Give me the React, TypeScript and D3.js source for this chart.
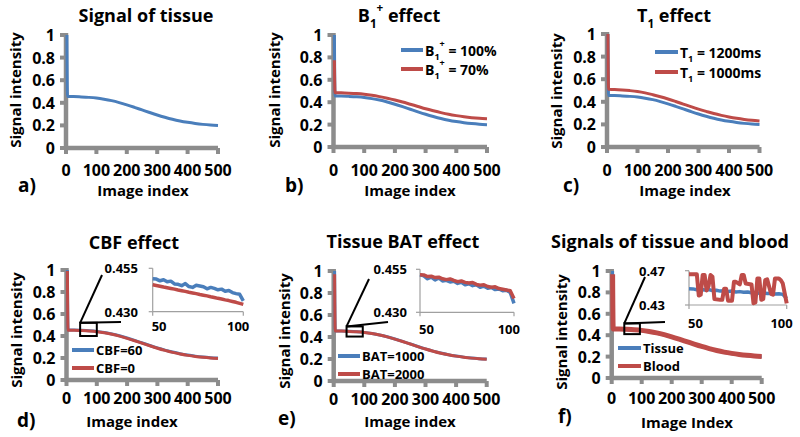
import React from 'react';
import * as d3 from 'd3';

// ---------- data ----------
const imageIndex = [3, 5, 25, 50, 75, 100, 125, 150, 175, 200, 225, 250, 275, 300, 325, 350, 375, 400, 425, 450, 475, 500];
const tissueSignal = [1.0, 0.455, 0.455, 0.452, 0.448, 0.442, 0.432, 0.419, 0.402, 0.382, 0.36, 0.337, 0.314, 0.292, 0.272, 0.254, 0.239, 0.227, 0.217, 0.209, 0.203, 0.199];
const b1Pct70 = [0.775, 0.485, 0.484, 0.481, 0.477, 0.471, 0.462, 0.45, 0.436, 0.42, 0.402, 0.382, 0.362, 0.342, 0.324, 0.307, 0.292, 0.28, 0.27, 0.262, 0.256, 0.252];
const t1Ms1000 = [1.0, 0.51, 0.509, 0.505, 0.499, 0.491, 0.479, 0.463, 0.445, 0.425, 0.403, 0.38, 0.357, 0.335, 0.315, 0.296, 0.28, 0.266, 0.254, 0.244, 0.236, 0.23];
const cbf0Main = [0.99, 0.452, 0.452, 0.449, 0.445, 0.439, 0.429, 0.416, 0.399, 0.379, 0.357, 0.334, 0.311, 0.289, 0.269, 0.251, 0.236, 0.224, 0.214, 0.206, 0.2, 0.196];
const bat2000Main = [0.97, 0.454, 0.454, 0.451, 0.447, 0.441, 0.431, 0.418, 0.401, 0.381, 0.359, 0.336, 0.313, 0.291, 0.271, 0.253, 0.238, 0.226, 0.216, 0.208, 0.202, 0.198];
const bloodMain = [0.97, 0.458, 0.458, 0.455, 0.451, 0.445, 0.435, 0.422, 0.405, 0.385, 0.363, 0.34, 0.317, 0.295, 0.275, 0.257, 0.242, 0.23, 0.22, 0.212, 0.206, 0.202];

const insetIndex = [50, 52, 54, 56, 58, 60, 62, 64, 66, 68, 70, 72, 74, 76, 78, 80, 82, 84, 86, 88, 90, 92, 94, 96, 98, 100];
const cbf60Inset = [0.449, 0.4488, 0.4478, 0.4484, 0.4472, 0.4476, 0.446, 0.4458, 0.445, 0.4462, 0.4445, 0.444, 0.4452, 0.4448, 0.4444, 0.4432, 0.444, 0.4434, 0.4426, 0.443, 0.4418, 0.4422, 0.441, 0.4404, 0.44, 0.4362];
const cbf0Inset = [0.4455, 0.4451, 0.4447, 0.4442, 0.4438, 0.4434, 0.443, 0.4425, 0.4421, 0.4417, 0.4412, 0.4408, 0.4404, 0.4399, 0.4395, 0.4391, 0.4386, 0.4382, 0.4377, 0.4373, 0.4368, 0.4364, 0.4359, 0.4354, 0.4348, 0.4342];
const bat1000Inset = [0.4518, 0.4512, 0.4495, 0.4505, 0.4488, 0.45, 0.4482, 0.4486, 0.4476, 0.448, 0.4468, 0.4474, 0.446, 0.4466, 0.4455, 0.446, 0.4446, 0.4452, 0.444, 0.4444, 0.4432, 0.4436, 0.4425, 0.4428, 0.4415, 0.4352];
const bat2000Inset = [0.4518, 0.4517, 0.4508, 0.451, 0.4502, 0.4504, 0.4495, 0.449, 0.4494, 0.4485, 0.4478, 0.4482, 0.4474, 0.447, 0.4473, 0.4462, 0.4458, 0.446, 0.445, 0.4446, 0.4448, 0.4438, 0.4434, 0.443, 0.4425, 0.438];
const tissueInsetF = [0.449, 0.4488, 0.4478, 0.4484, 0.4474, 0.448, 0.4468, 0.4472, 0.4462, 0.4466, 0.4458, 0.4462, 0.4452, 0.4456, 0.4448, 0.4452, 0.4442, 0.4446, 0.4438, 0.4442, 0.4434, 0.4436, 0.4428, 0.4432, 0.4424, 0.4376];
const bloodInsetIndex = [50, 54, 55, 56, 57, 58, 59, 60, 61, 62, 63, 66, 67, 68, 69, 70, 72, 73, 74, 76, 77, 78, 79, 82, 83, 84, 85, 86, 87, 88, 89, 90, 92, 93, 94, 96, 97, 98, 100];
const bloodInsetF = [0.466, 0.466, 0.441, 0.442, 0.465, 0.465, 0.447, 0.452, 0.465, 0.463, 0.437, 0.436, 0.436, 0.449, 0.449, 0.435, 0.435, 0.457, 0.457, 0.454, 0.465, 0.465, 0.455, 0.454, 0.432, 0.433, 0.461, 0.461, 0.436, 0.437, 0.459, 0.46, 0.443, 0.442, 0.461, 0.461, 0.459, 0.455, 0.432];

const yTicks = [0, 0.2, 0.4, 0.6, 0.8, 1];
const yTickLabels = ['0', '0.2', '0.4', '0.6', '0.8', '1'];
const xTicks = [0, 100, 200, 300, 400, 500];

// ---------- styles ----------
const BLUE = '#4a7ebb';
const RED = '#be4b48';
const GREY = '#8c8c8c';
const FONT = "'Open Sans', 'DejaVu Sans', sans-serif";

type Series = { xs: number[]; ys: number[]; color: string; width: number };

function pairs(xs: number[], ys: number[]): [number, number][] {
  return xs.map((v, i) => [v, ys[i]] as [number, number]);
}

function Panel(p: any) {
  const x = d3.scaleLinear().domain([0, 500]).range([p.x0, p.x1]);
  const y = d3.scaleLinear().domain([0, 1]).range([p.yBot, p.yTop]);
  const line = d3
    .line<[number, number]>()
    .x((d) => x(d[0]))
    .y((d) => y(d[1]))
    .curve(d3.curveMonotoneX);
  const ax = x(0);
  return (
    <g fontFamily={FONT} fontWeight="bold">
      <text x={p.titleX} y={p.titleY} textAnchor="middle" dominantBaseline="central" fontSize={18}>
        {p.title}
      </text>
      <text
        transform={`translate(${p.yTitleX},${p.yTitleY}) rotate(-90)`}
        textAnchor="middle"
        dominantBaseline="central"
        fontSize={15}
      >
        Signal intensity
      </text>
      <line x1={ax} x2={ax} y1={y(1) - 2} y2={y(0) + 2} stroke={GREY} strokeWidth={4.5} />
      <line x1={ax - 2} x2={x(500)} y1={y(0)} y2={y(0)} stroke={GREY} strokeWidth={4.5} />
      {yTicks.map((t, i) => (
        <g key={'yt' + i}>
          <line x1={ax - 6} x2={ax} y1={y(t)} y2={y(t)} stroke={GREY} strokeWidth={4} />
          <text x={ax - 11} y={y(t)} textAnchor="end" dominantBaseline="central" fontSize={16}>
            {yTickLabels[i]}
          </text>
        </g>
      ))}
      {xTicks.map((t, i) => (
        <g key={'xt' + i}>
          <line x1={x(t)} x2={x(t)} y1={y(0)} y2={y(0) + 6} stroke={GREY} strokeWidth={4} />
          <text x={x(t)} y={y(0) + p.xLabOff} textAnchor="middle" dominantBaseline="central" fontSize={16}>
            {t}
          </text>
        </g>
      ))}
      {p.series.map((s: Series, i: number) => (
        <path
          key={'s' + i}
          d={line(pairs(s.xs, s.ys)) || ''}
          fill="none"
          stroke={s.color}
          strokeWidth={s.width}
          strokeLinejoin="round"
        />
      ))}
      <text x={p.letterX} y={p.letterY} dominantBaseline="central" fontSize={19}>
        {p.letter}
      </text>
      <text x={p.xTitleX} y={p.xTitleY} textAnchor="middle" dominantBaseline="central" fontSize={15}>
        {p.xTitle}
      </text>
      {p.legend.map((l: any, i: number) => (
        <g key={'lg' + i}>
          <line x1={l.x1} x2={l.x2} y1={l.y} y2={l.y} stroke={l.color} strokeWidth={4} />
          <text x={l.x2 + 2} y={l.y} dominantBaseline="central" fontSize={l.size || 14}>
            {l.label}
          </text>
        </g>
      ))}
      {p.inset && <Inset ins={p.inset} x={x} y={y} />}
    </g>
  );
}

function Inset({ ins, x, y }: any) {
  const xi = d3.scaleLinear().domain([50, 100]).range([ins.x50, ins.x100]);
  const yi = d3.scaleLinear().domain(ins.yDomain).range([ins.yBot, ins.yTop]);
  const line = d3
    .line<[number, number]>()
    .x((d) => xi(d[0]))
    .y((d) => yi(d[1]));
  const rx0 = x(ins.rect[0]);
  const rx1 = x(ins.rect[1]);
  const ry0 = y(ins.rect[3]);
  const ry1 = y(ins.rect[2]);
  const IG = '#a0a0a0';
  return (
    <g>
      <rect x={rx0} y={ry0} width={rx1 - rx0} height={ry1 - ry0} fill="none" stroke="#000" strokeWidth={2} />
      <line x1={rx0} y1={ry0} x2={ins.p1[0]} y2={ins.p1[1]} stroke="#000" strokeWidth={2} />
      <line x1={rx0} y1={ry0} x2={ins.p2[0]} y2={ins.p2[1]} stroke="#000" strokeWidth={2} />
      <line x1={xi(50)} x2={xi(50)} y1={yi(ins.yDomain[1])} y2={yi(ins.yDomain[0])} stroke={IG} strokeWidth={1.2} />
      <line x1={xi(50)} x2={xi(100)} y1={yi(ins.yDomain[0])} y2={yi(ins.yDomain[0])} stroke={IG} strokeWidth={1.2} />
      {ins.yDomain.map((v: number, i: number) => (
        <g key={'iy' + i}>
          <line x1={xi(50) - 4} x2={xi(50)} y1={yi(v)} y2={yi(v)} stroke={IG} strokeWidth={1.2} />
          <text x={ins.yLabRight} y={yi(v)} textAnchor="end" dominantBaseline="central" fontSize={13}>
            {ins.yLabels[i]}
          </text>
        </g>
      ))}
      {[50, 100].map((v, i) => (
        <line key={'ix' + i} x1={xi(v)} x2={xi(v)} y1={yi(ins.yDomain[0])} y2={yi(ins.yDomain[0]) + 4} stroke={IG} strokeWidth={1.2} />
      ))}
      <text x={xi(50) - 1} y={yi(ins.yDomain[0]) + ins.xLabOff} dominantBaseline="central" fontSize={13}>
        50
      </text>
      <text x={xi(100) + 6} y={yi(ins.yDomain[0]) + ins.xLabOff} textAnchor="end" dominantBaseline="central" fontSize={13}>
        100
      </text>
      {ins.series.map((s: Series, i: number) => (
        <path
          key={'is' + i}
          d={line(pairs(s.xs, s.ys)) || ''}
          fill="none"
          stroke={s.color}
          strokeWidth={s.width}
          strokeLinejoin="round"
        />
      ))}
    </g>
  );
}

const B1 = (suffix: string, big: number) => (
  <>
    B<tspan fontSize={big * 0.65} baselineShift="sub">1</tspan>
    <tspan fontSize={big * 0.65} baselineShift="super">+</tspan>
    {suffix}
  </>
);
const T1 = (suffix: string, big: number) => (
  <>
    T<tspan fontSize={big * 0.65} baselineShift="sub">1</tspan>
    {suffix}
  </>
);

export default function App() {
  return (
    <svg
      width={800}
      height={437}
      style={{ position: 'absolute', left: 0, top: 0, background: '#fff' }}
    >
      <rect width={800} height={437} fill="#fff" />
      <Panel
        x0={66} x1={218} yTop={35} yBot={148} xLabOff={22}
        title="Signal of tissue" titleX={146} titleY={15}
        yTitleX={15} yTitleY={90}
        letter="a)" letterX={18} letterY={185}
        xTitle="Image index" xTitleX={143} xTitleY={190}
        series={[{ xs: imageIndex, ys: tissueSignal, color: BLUE, width: 3 }]}
        legend={[]}
      />
      <Panel
        x0={333.5} x1={487} yTop={35} yBot={147} xLabOff={23}
        title={B1(' effect', 18)} titleX={399} titleY={15}
        yTitleX={274} yTitleY={90}
        letter="b)" letterX={285} letterY={185}
        xTitle="Image index" xTitleX={410} xTitleY={190}
        series={[
          { xs: imageIndex, ys: tissueSignal, color: BLUE, width: 3 },
          { xs: imageIndex, ys: b1Pct70, color: RED, width: 3 },
        ]}
        legend={[
          { x1: 401, x2: 423, y: 50, color: BLUE, label: B1(' = 100%', 14) },
          { x1: 401, x2: 423, y: 69, color: RED, label: B1(' = 70%', 14) },
        ]}
      />
      <Panel
        x0={607} x1={759.5} yTop={34} yBot={147} xLabOff={23}
        title={T1(' effect', 18)} titleX={674} titleY={15}
        yTitleX={556} yTitleY={91}
        letter="c)" letterX={563} letterY={185}
        xTitle="Image index" xTitleX={685} xTitleY={190}
        series={[
          { xs: imageIndex, ys: tissueSignal, color: BLUE, width: 3 },
          { xs: imageIndex, ys: t1Ms1000, color: RED, width: 3 },
        ]}
        legend={[
          { x1: 655, x2: 678, y: 52, color: BLUE, label: T1(' = 1200ms', 14) },
          { x1: 655, x2: 678, y: 72, color: RED, label: T1(' = 1000ms', 14) },
        ]}
      />
      <Panel
        x0={66.5} x1={218} yTop={270} yBot={380} xLabOff={18}
        title="CBF effect" titleX={134} titleY={242}
        yTitleX={16} yTitleY={330}
        letter="d)" letterX={17} letterY={420}
        xTitle="Image index" xTitleX={132} xTitleY={421}
        series={[
          { xs: imageIndex, ys: tissueSignal, color: BLUE, width: 3 },
          { xs: imageIndex, ys: cbf0Main, color: RED, width: 3 },
        ]}
        legend={[
          { x1: 72, x2: 94, y: 350, color: BLUE, label: 'CBF=60', size: 13 },
          { x1: 72, x2: 94, y: 368, color: RED, label: 'CBF=0', size: 13 },
        ]}
        inset={{
          x50: 152.7, x100: 243.3, yTop: 268.3, yBot: 311.7,
          yDomain: [0.43, 0.455], yLabels: ['0.430', '0.455'], yLabRight: 138, xLabOff: 14,
          rect: [45, 100, 0.4, 0.52], p1: [102, 275], p2: [121, 322],
          series: [
            { xs: insetIndex, ys: cbf60Inset, color: BLUE, width: 3.5 },
            { xs: insetIndex, ys: cbf0Inset, color: RED, width: 3.5 },
          ],
        }}
      />
      <Panel
        x0={333.7} x1={486.7} yTop={271} yBot={381} xLabOff={18}
        title="Tissue BAT effect" titleX={403} titleY={241}
        yTitleX={284} yTitleY={331}
        letter="e)" letterX={278} letterY={418}
        xTitle="Image index" xTitleX={410} xTitleY={421}
        series={[
          { xs: imageIndex, ys: tissueSignal, color: BLUE, width: 3 },
          { xs: imageIndex, ys: bat2000Main, color: RED, width: 3 },
        ]}
        legend={[
          { x1: 338, x2: 360, y: 356, color: BLUE, label: 'BAT=1000', size: 13 },
          { x1: 338, x2: 360, y: 374, color: RED, label: 'BAT=2000', size: 13 },
        ]}
        inset={{
          x50: 420, x100: 514, yTop: 269.3, yBot: 312.3,
          yDomain: [0.43, 0.455], yLabels: ['0.430', '0.455'], yLabRight: 407, xLabOff: 17,
          rect: [42, 95, 0.404, 0.496], p1: [369, 279], p2: [388, 322],
          series: [
            { xs: insetIndex, ys: bat1000Inset, color: BLUE, width: 3.5 },
            { xs: insetIndex, ys: bat2000Inset, color: RED, width: 3.5 },
          ],
        }}
      />
      <Panel
        x0={611.7} x1={761.7} yTop={271} yBot={378} xLabOff={20}
        title="Signals of tissue and blood" titleX={670} titleY={241}
        yTitleX={561} yTitleY={332}
        letter="f)" letterX={558} letterY={416}
        xTitle="Image Index" xTitleX={687} xTitleY={422}
        series={[
          { xs: imageIndex, ys: tissueSignal, color: BLUE, width: 3 },
          { xs: imageIndex, ys: bloodMain, color: RED, width: 5 },
        ]}
        legend={[
          { x1: 618, x2: 641, y: 348, color: BLUE, label: 'Tissue', size: 13 },
          { x1: 618, x2: 641, y: 366, color: RED, label: 'Blood', size: 13 },
        ]}
        inset={{
          x50: 689, x100: 786.7, yTop: 270.7, yBot: 305,
          yDomain: [0.43, 0.47], yLabels: ['0.43', '0.47'], yLabRight: 665, xLabOff: 18,
          rect: [42, 94, 0.41, 0.51], p1: [645, 277], p2: [665, 322],
          series: [
            { xs: insetIndex, ys: tissueInsetF, color: BLUE, width: 3.5 },
            { xs: bloodInsetIndex, ys: bloodInsetF, color: RED, width: 4 },
          ],
        }}
      />
    </svg>
  );
}
